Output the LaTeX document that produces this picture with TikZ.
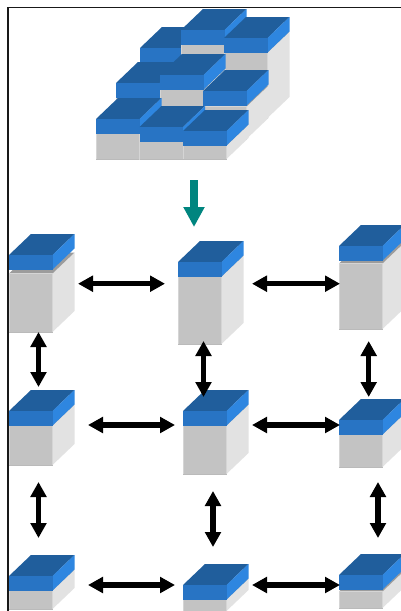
\documentclass[tikz,border=0pt]{standalone}
\usetikzlibrary{arrows.meta}

\definecolor{greyfront}{HTML}{C3C3C3}
\definecolor{greyside}{HTML}{E2E2E2}
\definecolor{greytop}{HTML}{9C9C9C}
\definecolor{bluefront}{HTML}{2874C4}
\definecolor{bluetop}{HTML}{205E9C}
\definecolor{blueside}{HTML}{2E86E0}
\definecolor{tealarrow}{HTML}{00857F}

\tikzset{
    twoway/.style={line width=5.3pt,{Triangle[length=15pt,width=15.5pt]}-{Triangle[length=15pt,width=15.5pt]}},
    moveon/.style={line width=7.5pt,tealarrow,-{Triangle[length=20pt,width=20pt]}},
    frontface/.style={fill=greyfront,draw=greyfront!70!white,line width=0.7pt}
}

% name, x, y of the blue front top, total height, gap below the blue
\newcommand{\stackblock}[5]{
    \begin{scope}[shift={(#2,#3)}]
        \coordinate (#1) at (0,0);
        \fill[greyside] (43.5,14.5+#5) -- ++(22,-21) -- (65.5,#4-21) -- (43.5,#4) -- cycle;
        \fill[greytop] (0,14.5+#5) -- (43.5,14.5+#5) -- ++(22,-21) -- ++(-43.5,0) -- cycle;
        \draw[frontface] (0,14.5+#5) rectangle (43.5,#4);
        \draw[greytop!70!white,line width=0.8pt] (0,#4) -- (43.5,#4);
        \fill[bluetop] (0,0) -- (43.5,0) -- ++(22,-21) -- ++(-43.5,0) -- cycle;
        \fill[blueside] (43.5,0) -- ++(22,-21) -- ++(0,14.5) -- (43.5,14.5) -- cycle;
        \fill[bluefront] (0,0) rectangle (43.5,14.5);
    \end{scope}
}

\begin{document}
\begin{tikzpicture}[x=1pt,y=-1pt]
    \useasboundingbox (0,0) rectangle (401,611);
    \clip (0,0) rectangle (401,611);
    \fill[white] (0,0) rectangle (401,611);

    % stack of columns, back to front
    \stackblock{backa}{140}{48}{70}{0}
    \stackblock{backb}{181}{30}{88}{0}
    \stackblock{backc}{224}{38}{80}{0}
    \stackblock{mida}{116}{83}{56}{0}
    \stackblock{midb}{160}{75}{64}{0}
    \stackblock{midc}{203}{91}{48}{1}
    \stackblock{fronta}{96}{119}{40}{0}
    \stackblock{frontb}{139.5}{127}{32}{0}
    \stackblock{frontc}{183}{131}{28}{0}

    % frame
    \draw[black!90,line width=1.5pt] (8,611) -- (8,7.5) -- (401,7.5);

    % single columns
    \stackblock{lefta}{9}{255}{77}{4}
    \stackblock{leftb}{9}{411}{54}{0}
    \stackblock{leftc}{9}{576}{33}{0}
    \stackblock{centa}{178}{262}{82}{0}
    \stackblock{centb}{183}{411}{63}{0}
    \stackblock{centc}{183}{585}{26}{0}
    \stackblock{righta}{339}{246}{83}{3}
    \stackblock{rightb}{339}{420}{47}{0}
    \stackblock{rightc}{339}{575}{33}{2}

    \coordinate (tealtail) at (194,180);
    \coordinate (tealtip) at (194,227);
    \draw[moveon] (tealtail) -- (tealtip);

    \foreach \p/\x/\y in {
        ha/78/283.7, hb/165/283.7, hc/252/283.7, hd/340/283.7,
        he/88/425, hf/175/425, hg/252/425, hh/340/425,
        hi/88/585, hj/175/585, hk/252/585, hl/340/585,
        va/38.5/332, vb/38.5/387, vc/203.5/341, vd/203.5/397,
        ve/368.7/341, vf/368.7/397, vg/38.5/482, vh/38.5/538,
        vi/213/491, vj/213/547, vk/378/482, vl/378/538}
        {\coordinate (\p) at (\x,\y);}

    \foreach \a/\b in {ha/hb,hc/hd,he/hf,hg/hh,hi/hj,hk/hl,va/vb,vc/vd,ve/vf,vg/vh,vi/vj,vk/vl}
        \draw[twoway] (\a) -- (\b);
\end{tikzpicture}
\end{document}
